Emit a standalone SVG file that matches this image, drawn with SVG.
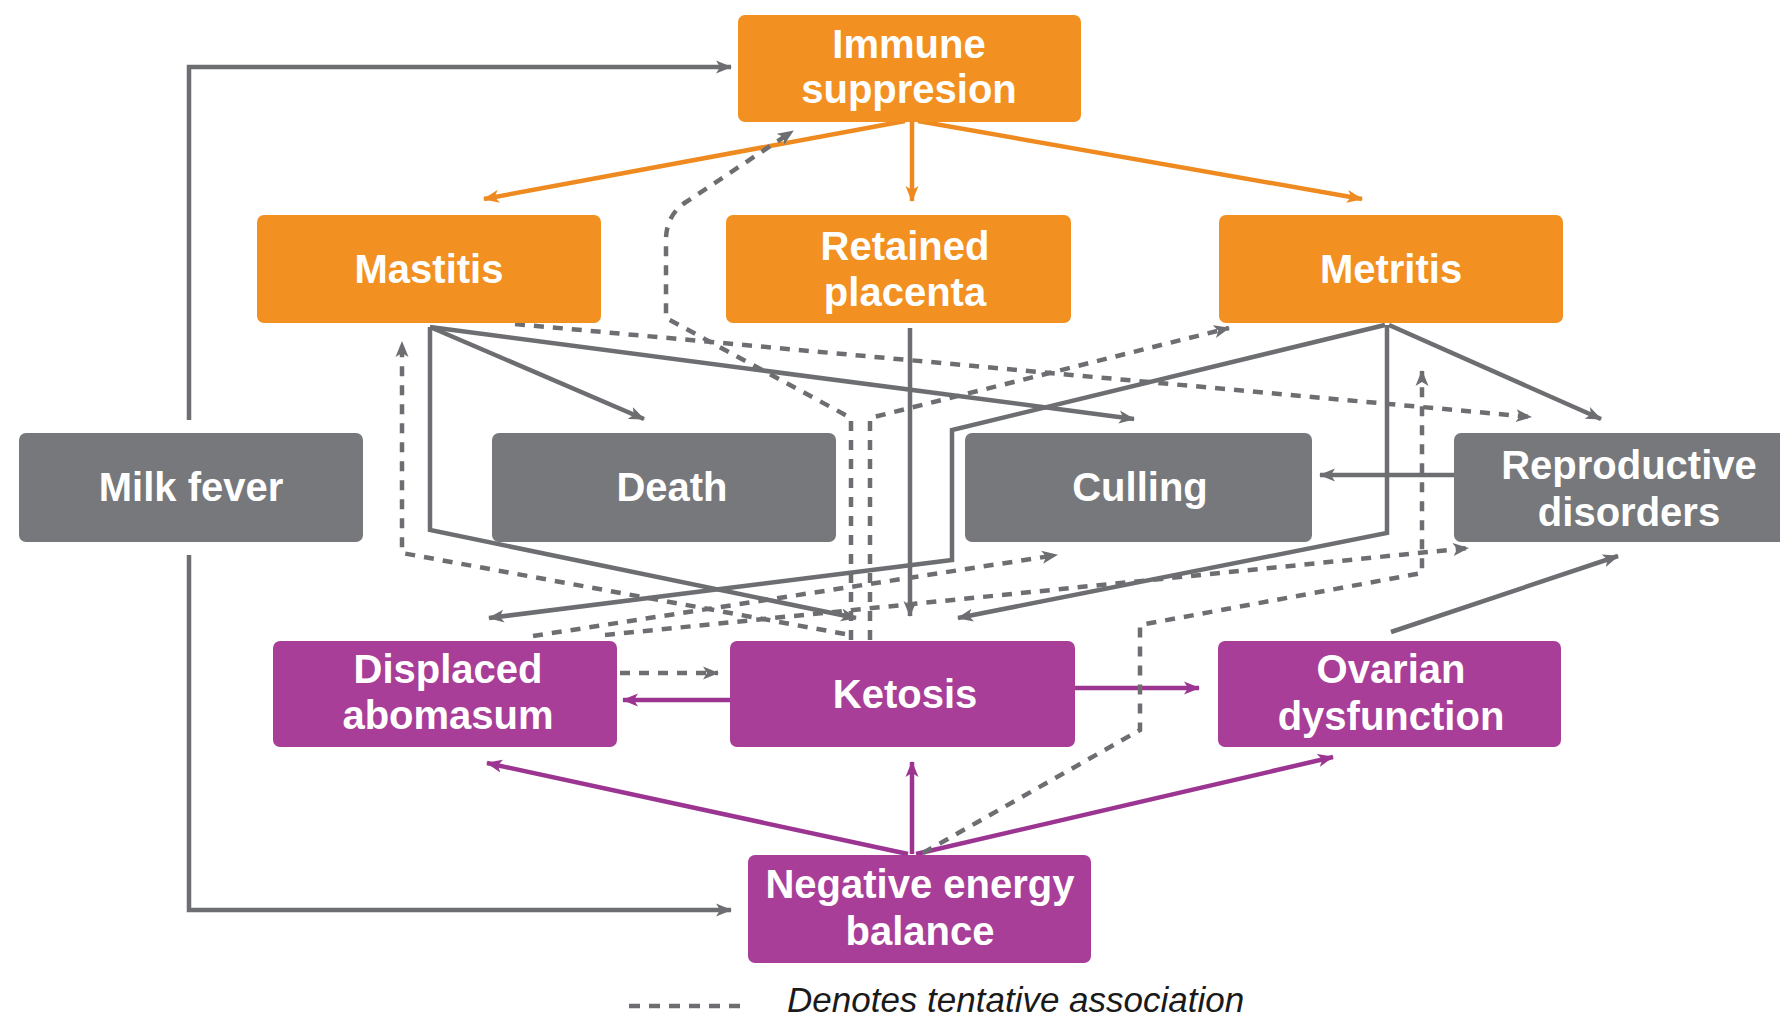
<svg xmlns="http://www.w3.org/2000/svg" width="1780" height="1021" viewBox="0 0 1780 1021">
<style>
.box{stroke:none}
.or{fill:#F29022}
.gr{fill:#77787B}
.pu{fill:#A83E98}
.lbl{font-family:"Liberation Sans",Arial,sans-serif;font-weight:bold;font-size:40px;fill:#ffffff;text-anchor:middle}
.lo{fill:none;stroke:#EE8A1F;stroke-width:4.5}
.lg{fill:none;stroke:#6D6E71;stroke-width:4.5}
.lp{fill:none;stroke:#9B3591;stroke-width:4.5}
.ld{fill:none;stroke:#6D6E71;stroke-width:4.5;stroke-dasharray:10 9}
.legend{font-family:"Liberation Sans",Arial,sans-serif;font-style:italic;font-size:35px;fill:#1a1a1a}
</style>
<defs>
<marker id="ao" viewBox="0 0 16 14" refX="15" refY="7" markerWidth="16" markerHeight="14" markerUnits="userSpaceOnUse" orient="auto"><path d="M0,0.5 L16,7 L0,13.5 L4,7 Z" fill="#EE8A1F"/></marker>
<marker id="ag" viewBox="0 0 16 14" refX="15" refY="7" markerWidth="16" markerHeight="14" markerUnits="userSpaceOnUse" orient="auto"><path d="M0,0.5 L16,7 L0,13.5 L4,7 Z" fill="#6D6E71"/></marker>
<marker id="ap" viewBox="0 0 16 14" refX="15" refY="7" markerWidth="16" markerHeight="14" markerUnits="userSpaceOnUse" orient="auto"><path d="M0,0.5 L16,7 L0,13.5 L4,7 Z" fill="#9B3591"/></marker>
</defs>
<rect width="1780" height="1021" fill="#ffffff"/>

<g id="connectors">
<path class="lo" d="M905,121 L484,199" marker-end="url(#ao)"/>
<path class="lo" d="M912,121 L912,201" marker-end="url(#ao)"/>
<path class="lo" d="M918,121 L1362,199" marker-end="url(#ao)"/>

<path class="lg" d="M189,420 V67 H731" marker-end="url(#ag)"/>
<path class="lg" d="M189,555 V910 H731" marker-end="url(#ag)"/>
<path class="lg" d="M430,327 L644,419" marker-end="url(#ag)"/>
<path class="lg" d="M430,327 L1134,419" marker-end="url(#ag)"/>
<path class="lg" d="M430,327 V530 L856,618" marker-end="url(#ag)"/>
<path class="lg" d="M910,328 V616" marker-end="url(#ag)"/>
<path class="lg" d="M1385,325 L952,430 V560 L489,618" marker-end="url(#ag)"/>
<path class="lg" d="M1387,325 V533 L958,618" marker-end="url(#ag)"/>
<path class="lg" d="M1389,325 L1601,419" marker-end="url(#ag)"/>
<path class="lg" d="M1454,475 H1320" marker-end="url(#ag)"/>
<path class="lg" d="M1391,632 L1618,556" marker-end="url(#ag)"/>

<path class="lp" d="M730,700 H623" marker-end="url(#ap)"/>
<path class="lp" d="M1075,688 H1199" marker-end="url(#ap)"/>
<path class="lp" d="M908,854 L487,763" marker-end="url(#ap)"/>
<path class="lp" d="M912,854 V762" marker-end="url(#ap)"/>
<path class="lp" d="M916,854 L1333,757" marker-end="url(#ap)"/>

<path class="ld" d="M851,640 V418 L666,318 V240 Q666,215 686,202 L793,131" marker-end="url(#ag)"/>
<path class="ld" d="M870,640 V418 L1229,328" marker-end="url(#ag)"/>
<path class="ld" d="M515,324 L1531,417" marker-end="url(#ag)"/>
<path class="ld" d="M845,634 L402,553 V342" marker-end="url(#ag)"/>
<path class="ld" d="M533,636 L1057,555" marker-end="url(#ag)"/>
<path class="ld" d="M605,635 L1468,548" marker-end="url(#ag)"/>
<path class="ld" d="M620,673 H718" marker-end="url(#ag)"/>
<path class="ld" d="M923,853 L1140,730 V625 L1422,573 V371" marker-end="url(#ag)"/>
</g>

<g id="immune"><rect class="box or" x="738" y="15" width="343" height="107" rx="7"/><text class="lbl" x="909" y="58">Immune</text><text class="lbl" x="909" y="103">suppresion</text></g>
<g id="mastitis"><rect class="box or" x="257" y="215" width="344" height="108" rx="7"/><text class="lbl" x="429" y="283">Mastitis</text></g>
<g id="retained"><rect class="box or" x="726" y="215" width="345" height="108" rx="7"/><text class="lbl" x="905" y="260">Retained</text><text class="lbl" x="905" y="306">placenta</text></g>
<g id="metritis"><rect class="box or" x="1219" y="215" width="344" height="108" rx="7"/><text class="lbl" x="1391" y="283">Metritis</text></g>
<g id="milkfever"><rect class="box gr" x="19" y="433" width="344" height="109" rx="7"/><text class="lbl" x="191" y="501">Milk fever</text></g>
<g id="death"><rect class="box gr" x="492" y="433" width="344" height="109" rx="7"/><text class="lbl" x="672" y="501">Death</text></g>
<g id="culling"><rect class="box gr" x="965" y="433" width="347" height="109" rx="7"/><text class="lbl" x="1140" y="501">Culling</text></g>
<g id="reproductive"><rect class="box gr" x="1454" y="433" width="344" height="109" rx="7"/><text class="lbl" x="1629" y="479">Reproductive</text><text class="lbl" x="1629" y="526">disorders</text></g>
<g id="displaced"><rect class="box pu" x="273" y="641" width="344" height="106" rx="7"/><text class="lbl" x="448" y="683">Displaced</text><text class="lbl" x="448" y="729">abomasum</text></g>
<g id="ketosis"><rect class="box pu" x="730" y="641" width="345" height="106" rx="7"/><text class="lbl" x="905" y="708">Ketosis</text></g>
<g id="ovarian"><rect class="box pu" x="1218" y="641" width="343" height="106" rx="7"/><text class="lbl" x="1391" y="683">Ovarian</text><text class="lbl" x="1391" y="730">dysfunction</text></g>
<g id="neb"><rect class="box pu" x="748" y="855" width="343" height="108" rx="7"/><text class="lbl" x="920" y="898">Negative energy</text><text class="lbl" x="920" y="945">balance</text></g>

<g id="legend">
<path class="ld" d="M629,1006 H748" style="stroke-width:4.5;stroke-dasharray:11 9"/>
<text class="legend" x="787" y="1012">Denotes tentative association</text>
</g>
</svg>
